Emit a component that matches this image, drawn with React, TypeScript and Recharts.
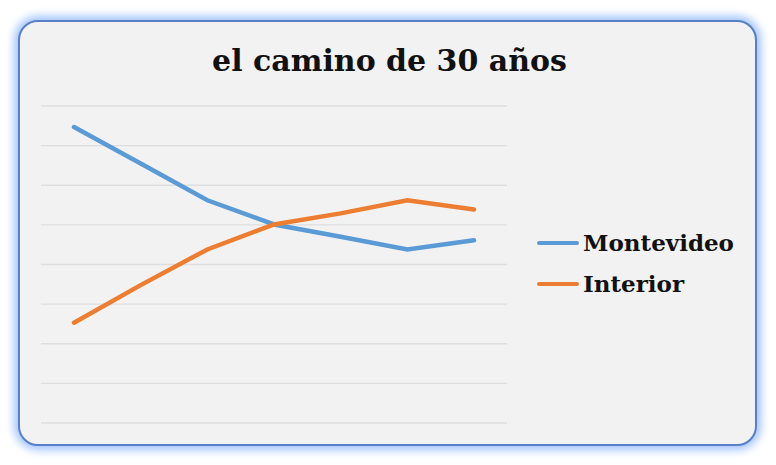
import { LineChart, Line, XAxis, YAxis, CartesianGrid, Legend } from 'recharts';

const years = ['1985', '1990', '1995', '2000', '2005', '2010', '2015'];
const montevideo = [7.47, 6.55, 5.62, 5.01, 4.7, 4.38, 4.61];
const interior = [2.53, 3.48, 4.38, 5.01, 5.29, 5.62, 5.39];
const yTicks = [0, 1, 2, 3, 4, 5, 6, 7, 8];

const seriesInfo = [
  { key: 'Montevideo', color: '#5b9bd5' },
  { key: 'Interior', color: '#ed7d31' },
];

const data = years.map((year, i) => ({
  year,
  Montevideo: montevideo[i],
  Interior: interior[i],
}));

const fontFamily = '"DejaVu Serif", "Liberation Serif", serif';

// legend box is 210 wide; recharts adds it to the right margin
const LEGEND_W = 210;

const LegendBox = () => (
  <div style={{ fontFamily }}>
    {seriesInfo.map((s) => (
      <div key={s.key} style={{ display: 'flex', alignItems: 'center', height: 41 }}>
        <div style={{ width: 42, height: 4, background: s.color, borderRadius: 2, marginRight: 4 }} />
        <span style={{ fontSize: 23, fontWeight: 'bold', color: '#111' }}>{s.key}</span>
      </div>
    ))}
  </div>
);

export default function App() {
  return (
    <div style={{ position: 'absolute', left: 0, top: 0, width: 776, height: 465, background: '#fff' }}>
      <div
        style={{
          position: 'absolute',
          left: 18,
          top: 20,
          width: 739,
          height: 426,
          boxSizing: 'border-box',
          border: '2px solid #5a7fc6',
          borderRadius: 20,
          background: '#f2f2f2',
          boxShadow: '0 0 9px 4px rgba(130,175,255,0.75)',
        }}
      >
        <div
          style={{
            position: 'absolute',
            left: 4,
            right: 0,
            top: 21,
            textAlign: 'center',
            fontFamily,
            fontWeight: 'bold',
            fontSize: 30,
            color: '#111',
          }}
        >
          el camino de 30 años
        </div>
        <LineChart
          width={735}
          height={422}
          data={data}
          margin={{ top: 84, right: 248 - LEGEND_W, left: 21, bottom: 21 }}
        >
          <CartesianGrid vertical={false} stroke="#dedede" strokeWidth={1.3} />
          <XAxis dataKey="year" hide padding={{ left: 33, right: 33 }} />
          <YAxis hide domain={[0, 8]} ticks={yTicks} />
          <Legend
            layout="vertical"
            align="right"
            verticalAlign="top"
            content={<LegendBox />}
            wrapperStyle={{ left: 517, top: 200, width: LEGEND_W }}
          />
          {seriesInfo.map((s) => (
            <Line
              key={s.key}
              type="linear"
              dataKey={s.key}
              stroke={s.color}
              strokeWidth={4.5}
              strokeLinecap="round"
              dot={false}
              isAnimationActive={false}
            />
          ))}
        </LineChart>
      </div>
    </div>
  );
}
